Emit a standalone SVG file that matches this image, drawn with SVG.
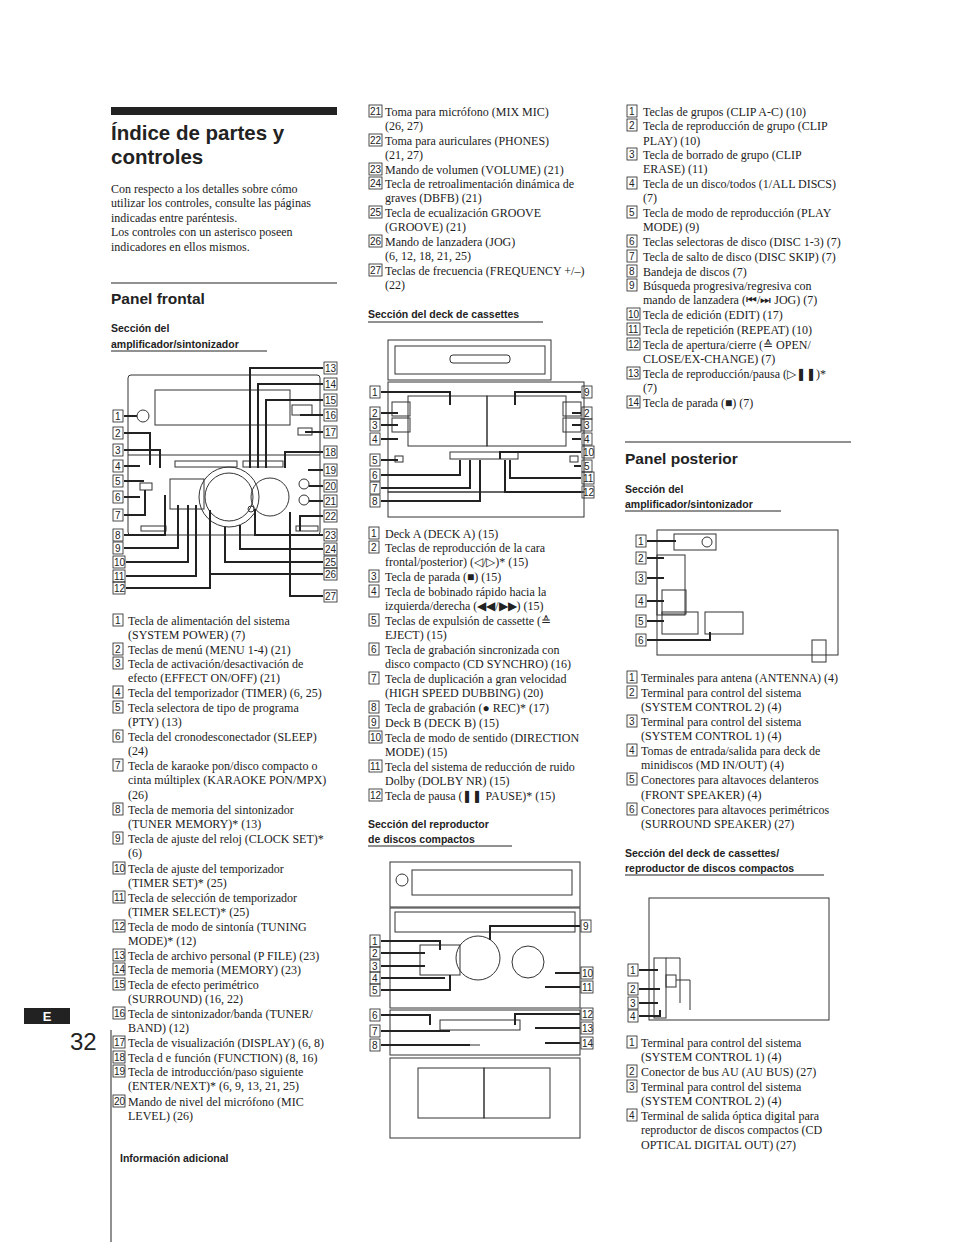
<svg xmlns="http://www.w3.org/2000/svg" width="954" height="1242" viewBox="0 0 954 1242">
<style>
text{font-family:"Liberation Serif",serif;font-size:12px;fill:#222}
.h{font-family:"Liberation Sans",Arial,sans-serif;font-weight:bold}
.title{font-size:20.5px}
.ph{font-size:15.5px}
.s{font-family:"Liberation Sans",Arial,sans-serif;font-weight:bold;font-size:10.5px}
.b{fill:none;stroke:#222;stroke-width:0.8}
.n{font-family:"Liberation Sans",Arial,sans-serif;font-size:10px}
.l{fill:none;stroke:#222;stroke-width:1}
.t{fill:none;stroke:#222;stroke-width:2}
.d{fill:none;stroke:#333;stroke-width:1}
</style>
<rect width="954" height="1242" fill="#fff"/>
<g id="header">
<rect x="111" y="107" width="226" height="8" fill="#222"/>
<text class="h title" x="111" y="140">Índice de partes y</text>
<text class="h title" x="111" y="164">controles</text>
<text x="111" y="193">Con respecto a los detalles sobre cómo</text>
<text x="111" y="207">utilizar los controles, consulte las páginas</text>
<text x="111" y="222">indicadas entre paréntesis.</text>
<text x="111" y="236">Los controles con un asterisco poseen</text>
<text x="111" y="251">indicadores en ellos mismos.</text>
<line x1="111" y1="283" x2="337" y2="283" class="l"/>
<text class="h ph" x="111" y="304">Panel frontal</text>
<text class="s" x="111" y="332">Sección del</text>
<text class="s" x="111" y="348">amplificador/sintonizador</text>
<line x1="111" y1="351" x2="267" y2="351" class="l"/>
</g>
<g id="page">
<rect x="24" y="1008" width="46" height="16" fill="#222"/>
<text class="h" x="47" y="1021" style="fill:#fff;font-size:13px" text-anchor="middle">E</text>
<text x="70" y="1050" style="font-family:'Liberation Sans',Arial,sans-serif;font-size:24px">32</text>
<line x1="111" y1="1030" x2="111" y2="1242" class="l"/>
<text class="s" x="120" y="1162">Información adicional</text>
</g>
<g id="front-amp">
<rect x="128" y="375" width="192" height="160" class="d" rx="3"/>
<rect x="155" y="390" width="135" height="35" class="d"/>
<rect x="292" y="405" width="20" height="10" class="d"/>
<rect x="298" y="428" width="14" height="7" class="d"/>
<circle cx="143" cy="416" r="6" class="d"/>
<line x1="128" y1="455" x2="320" y2="455" class="d"/>
<rect x="175" y="461" width="62" height="6" class="d"/>
<rect x="243" y="461" width="40" height="6" class="d"/>
<circle cx="229" cy="497" r="30" class="d"/>
<circle cx="229" cy="497" r="24" class="d"/>
<circle cx="270" cy="497" r="19" class="d"/>
<circle cx="304" cy="484" r="5" class="d"/>
<circle cx="304" cy="500" r="5" class="d"/>
<circle cx="251" cy="509" r="3" class="d"/>
<rect x="140" y="483" width="12" height="7" class="d"/>
<rect x="170" y="479" width="34" height="30" class="d"/>
<rect x="141" y="526" width="25" height="5" class="d"/>
<rect x="296" y="526" width="22" height="5" class="d"/>
</g>
<g id="front-amp-labels">
<rect x="113" y="410" width="10" height="12" class="b"/><text class="n" x="115" y="420">1</text>
<rect x="113" y="427" width="10" height="12" class="b"/><text class="n" x="115" y="437">2</text>
<rect x="113" y="444" width="10" height="12" class="b"/><text class="n" x="115" y="454">3</text>
<rect x="113" y="460" width="10" height="12" class="b"/><text class="n" x="115" y="470">4</text>
<rect x="113" y="475" width="10" height="12" class="b"/><text class="n" x="115" y="485">5</text>
<rect x="113" y="491" width="10" height="12" class="b"/><text class="n" x="115" y="501">6</text>
<rect x="113" y="509" width="10" height="12" class="b"/><text class="n" x="115" y="519">7</text>
<rect x="113" y="529" width="10" height="12" class="b"/><text class="n" x="115" y="539">8</text>
<rect x="113" y="542" width="10" height="12" class="b"/><text class="n" x="115" y="552">9</text>
<rect x="113" y="556" width="12" height="12" class="b"/><text class="n" x="114" y="566">10</text>
<rect x="113" y="570" width="12" height="12" class="b"/><text class="n" x="114" y="580">11</text>
<rect x="113" y="582" width="12" height="12" class="b"/><text class="n" x="114" y="592">12</text>
<rect x="324" y="362" width="13" height="12" class="b"/><text class="n" x="325" y="372">13</text>
<rect x="324" y="378" width="13" height="12" class="b"/><text class="n" x="325" y="388">14</text>
<rect x="324" y="394" width="13" height="12" class="b"/><text class="n" x="325" y="404">15</text>
<rect x="324" y="409" width="13" height="12" class="b"/><text class="n" x="325" y="419">16</text>
<rect x="324" y="426" width="13" height="12" class="b"/><text class="n" x="325" y="436">17</text>
<rect x="324" y="446" width="13" height="12" class="b"/><text class="n" x="325" y="456">18</text>
<rect x="324" y="464" width="13" height="12" class="b"/><text class="n" x="325" y="474">19</text>
<rect x="324" y="480" width="13" height="12" class="b"/><text class="n" x="325" y="490">20</text>
<rect x="324" y="495" width="13" height="12" class="b"/><text class="n" x="325" y="505">21</text>
<rect x="324" y="510" width="13" height="12" class="b"/><text class="n" x="325" y="520">22</text>
<rect x="324" y="529" width="13" height="12" class="b"/><text class="n" x="325" y="539">23</text>
<rect x="324" y="543" width="13" height="12" class="b"/><text class="n" x="325" y="553">24</text>
<rect x="324" y="556" width="13" height="12" class="b"/><text class="n" x="325" y="566">25</text>
<rect x="324" y="568" width="13" height="12" class="b"/><text class="n" x="325" y="578">26</text>
<rect x="324" y="590" width="13" height="12" class="b"/><text class="n" x="325" y="600">27</text>
</g>
<g id="front-amp-connectors">
<path class="t" d="M124 416H137M124 433H150V465M124 450H160V468M124 466H140M124 481H144M124 497H140M124 515H145V490M124 535H165V495M124 548H178V505M126 562H188V505M126 576H196V505M126 588H210V510"/>
<path class="t" d="M323 368H250V468M323 384H258V468M323 400H266V468M323 415H300M323 432H305M323 452H285V468M323 470H308M323 486H309M323 501H309M323 516H300V531M323 535H255V509M323 549H240V525M323 562H225V527M323 574H210V520M323 596H290V512"/>
</g>
<g id="front-list">
<rect x="113" y="614" width="10" height="12" class="b"/><text class="n" x="115" y="624">1</text>
<rect x="113" y="643" width="10" height="12" class="b"/><text class="n" x="115" y="653">2</text>
<rect x="113" y="657" width="10" height="12" class="b"/><text class="n" x="115" y="667">3</text>
<rect x="113" y="686" width="10" height="12" class="b"/><text class="n" x="115" y="696">4</text>
<rect x="113" y="701" width="10" height="12" class="b"/><text class="n" x="115" y="711">5</text>
<rect x="113" y="730" width="10" height="12" class="b"/><text class="n" x="115" y="740">6</text>
<rect x="113" y="759" width="10" height="12" class="b"/><text class="n" x="115" y="769">7</text>
<rect x="113" y="803" width="10" height="12" class="b"/><text class="n" x="115" y="813">8</text>
<rect x="113" y="832" width="10" height="12" class="b"/><text class="n" x="115" y="842">9</text>
<rect x="113" y="862" width="12" height="12" class="b"/><text class="n" x="114" y="872">10</text>
<rect x="113" y="891" width="12" height="12" class="b"/><text class="n" x="114" y="901">11</text>
<rect x="113" y="920" width="12" height="12" class="b"/><text class="n" x="114" y="930">12</text>
<rect x="113" y="949" width="12" height="12" class="b"/><text class="n" x="114" y="959">13</text>
<rect x="113" y="963" width="12" height="12" class="b"/><text class="n" x="114" y="973">14</text>
<rect x="113" y="978" width="12" height="12" class="b"/><text class="n" x="114" y="988">15</text>
<rect x="113" y="1007" width="12" height="12" class="b"/><text class="n" x="114" y="1017">16</text>
<rect x="113" y="1036" width="12" height="12" class="b"/><text class="n" x="114" y="1046">17</text>
<rect x="113" y="1051" width="12" height="12" class="b"/><text class="n" x="114" y="1061">18</text>
<rect x="113" y="1065" width="12" height="12" class="b"/><text class="n" x="114" y="1075">19</text>
<rect x="113" y="1095" width="12" height="12" class="b"/><text class="n" x="114" y="1105">20</text>
<text x="128" y="625">Tecla de alimentación del sistema</text>
<text x="128" y="639">(SYSTEM POWER) (7)</text>
<text x="128" y="654">Teclas de menú (MENU 1-4) (21)</text>
<text x="128" y="668">Tecla de activación/desactivación de</text>
<text x="128" y="682">efecto (EFFECT ON/OFF) (21)</text>
<text x="128" y="697">Tecla del temporizador (TIMER) (6, 25)</text>
<text x="128" y="712">Tecla selectora de tipo de programa</text>
<text x="128" y="726">(PTY) (13)</text>
<text x="128" y="741">Tecla del cronodesconectador (SLEEP)</text>
<text x="128" y="755">(24)</text>
<text x="128" y="770">Tecla de karaoke pon/disco compacto o</text>
<text x="128" y="784">cinta múltiplex (KARAOKE PON/MPX)</text>
<text x="128" y="799">(26)</text>
<text x="128" y="814">Tecla de memoria del sintonizador</text>
<text x="128" y="828">(TUNER MEMORY)* (13)</text>
<text x="128" y="843">Tecla de ajuste del reloj (CLOCK SET)*</text>
<text x="128" y="857">(6)</text>
<text x="128" y="873">Tecla de ajuste del temporizador</text>
<text x="128" y="887">(TIMER SET)* (25)</text>
<text x="128" y="902">Tecla de selección de temporizador</text>
<text x="128" y="916">(TIMER SELECT)* (25)</text>
<text x="128" y="931">Tecla de modo de sintonía (TUNING</text>
<text x="128" y="945">MODE)* (12)</text>
<text x="128" y="960">Tecla de archivo personal (P FILE) (23)</text>
<text x="128" y="974">Tecla de memoria (MEMORY) (23)</text>
<text x="128" y="989">Tecla de efecto perimétrico</text>
<text x="128" y="1003">(SURROUND) (16, 22)</text>
<text x="128" y="1018">Tecla de sintonizador/banda (TUNER/</text>
<text x="128" y="1032">BAND) (12)</text>
<text x="128" y="1047">Tecla de visualización (DISPLAY) (6, 8)</text>
<text x="128" y="1062">Tecla d e función (FUNCTION) (8, 16)</text>
<text x="128" y="1076">Tecla de introducción/paso siguiente</text>
<text x="128" y="1090">(ENTER/NEXT)* (6, 9, 13, 21, 25)</text>
<text x="128" y="1106">Mando de nivel del micrófono (MIC</text>
<text x="128" y="1120">LEVEL) (26)</text>
</g>
<g id="front-list-2">
<rect x="369" y="105" width="13" height="12" class="b"/><text class="n" x="370" y="115">21</text>
<rect x="369" y="134" width="13" height="12" class="b"/><text class="n" x="370" y="144">22</text>
<rect x="369" y="163" width="13" height="12" class="b"/><text class="n" x="370" y="173">23</text>
<rect x="369" y="177" width="13" height="12" class="b"/><text class="n" x="370" y="187">24</text>
<rect x="369" y="206" width="13" height="12" class="b"/><text class="n" x="370" y="216">25</text>
<rect x="369" y="235" width="13" height="12" class="b"/><text class="n" x="370" y="245">26</text>
<rect x="369" y="264" width="13" height="12" class="b"/><text class="n" x="370" y="274">27</text>
<text x="385" y="116">Toma para micrófono (MIX MIC)</text>
<text x="385" y="130">(26, 27)</text>
<text x="385" y="145">Toma para auriculares (PHONES)</text>
<text x="385" y="159">(21, 27)</text>
<text x="385" y="174">Mando de volumen (VOLUME) (21)</text>
<text x="385" y="188">Tecla de retroalimentación dinámica de</text>
<text x="385" y="202">graves (DBFB) (21)</text>
<text x="385" y="217">Tecla de ecualización GROOVE</text>
<text x="385" y="231">(GROOVE) (21)</text>
<text x="385" y="246">Mando de lanzadera (JOG)</text>
<text x="385" y="260">(6, 12, 18, 21, 25)</text>
<text x="385" y="275">Teclas de frecuencia (FREQUENCY +/–)</text>
<text x="385" y="289">(22)</text>
<text class="s" x="368" y="318">Sección del deck de cassettes</text>
<line x1="368" y1="322" x2="543" y2="322" class="l"/>
</g>
<g id="cassette">
<rect x="388" y="340" width="163" height="40" class="d"/>
<rect x="395" y="346" width="150" height="28" class="d"/>
<rect x="450" y="355" width="60" height="8" class="d" rx="3"/>
<rect x="388" y="382" width="196" height="110" class="d"/>
<rect x="408" y="396" width="79" height="50" class="d"/>
<rect x="487" y="396" width="79" height="50" class="d"/>
<rect x="392" y="402" width="18" height="14" class="d"/>
<rect x="392" y="418" width="18" height="14" class="d"/>
<rect x="563" y="402" width="18" height="14" class="d"/>
<rect x="563" y="418" width="18" height="14" class="d"/>
<rect x="450" y="452" width="68" height="7" class="d"/>
<rect x="395" y="456" width="8" height="6" class="d"/>
<rect x="570" y="456" width="8" height="6" class="d"/>
<rect x="388" y="492" width="196" height="25" class="d"/>
</g>
<g id="cassette-labels">
<rect x="370" y="386" width="10" height="12" class="b"/><text class="n" x="372" y="396">1</text>
<rect x="370" y="407" width="10" height="12" class="b"/><text class="n" x="372" y="417">2</text>
<rect x="370" y="419" width="10" height="12" class="b"/><text class="n" x="372" y="429">3</text>
<rect x="370" y="433" width="10" height="12" class="b"/><text class="n" x="372" y="443">4</text>
<rect x="370" y="454" width="10" height="12" class="b"/><text class="n" x="372" y="464">5</text>
<rect x="370" y="469" width="10" height="12" class="b"/><text class="n" x="372" y="479">6</text>
<rect x="370" y="482" width="10" height="12" class="b"/><text class="n" x="372" y="492">7</text>
<rect x="370" y="495" width="10" height="12" class="b"/><text class="n" x="372" y="505">8</text>
<rect x="582" y="386" width="10" height="12" class="b"/><text class="n" x="584" y="396">9</text>
<rect x="582" y="407" width="10" height="12" class="b"/><text class="n" x="584" y="417">2</text>
<rect x="582" y="419" width="10" height="12" class="b"/><text class="n" x="584" y="429">3</text>
<rect x="582" y="433" width="10" height="12" class="b"/><text class="n" x="584" y="443">4</text>
<rect x="582" y="446" width="12" height="12" class="b"/><text class="n" x="583" y="456">10</text>
<rect x="582" y="460" width="10" height="12" class="b"/><text class="n" x="584" y="470">5</text>
<rect x="582" y="472" width="12" height="12" class="b"/><text class="n" x="583" y="482">11</text>
<rect x="582" y="486" width="12" height="12" class="b"/><text class="n" x="583" y="496">12</text>
</g>
<g id="cassette-connectors">
<path class="t" d="M381 392H450V405M381 413H398M381 425H398M381 439H398M381 460H398M381 475H460V460M381 488H470V460M381 501H480V460M581 392H515V405M581 413H572M581 425H572M581 439H572M581 452H500V459M581 466H574M581 478H510V460M581 492H505V460"/>
</g>
<g id="cassette-list">
<rect x="369" y="527" width="10" height="12" class="b"/><text class="n" x="371" y="537">1</text>
<rect x="369" y="541" width="10" height="12" class="b"/><text class="n" x="371" y="551">2</text>
<rect x="369" y="570" width="10" height="12" class="b"/><text class="n" x="371" y="580">3</text>
<rect x="369" y="585" width="10" height="12" class="b"/><text class="n" x="371" y="595">4</text>
<rect x="369" y="614" width="10" height="12" class="b"/><text class="n" x="371" y="624">5</text>
<rect x="369" y="643" width="10" height="12" class="b"/><text class="n" x="371" y="653">6</text>
<rect x="369" y="672" width="10" height="12" class="b"/><text class="n" x="371" y="682">7</text>
<rect x="369" y="701" width="10" height="12" class="b"/><text class="n" x="371" y="711">8</text>
<rect x="369" y="716" width="10" height="12" class="b"/><text class="n" x="371" y="726">9</text>
<rect x="369" y="731" width="13" height="12" class="b"/><text class="n" x="370" y="741">10</text>
<rect x="369" y="760" width="13" height="12" class="b"/><text class="n" x="370" y="770">11</text>
<rect x="369" y="789" width="13" height="12" class="b"/><text class="n" x="370" y="799">12</text>
<text x="385" y="538">Deck A (DECK A) (15)</text>
<text x="385" y="552">Teclas de reproducción de la cara</text>
<text x="385" y="566">frontal/posterior) (◁/▷)* (15)</text>
<text x="385" y="581">Tecla de parada (■) (15)</text>
<text x="385" y="596">Tecla de bobinado rápido hacia la</text>
<text x="385" y="610">izquierda/derecha (◀◀/▶▶) (15)</text>
<text x="385" y="625">Teclas de expulsión de cassette (≙</text>
<text x="385" y="639">EJECT) (15)</text>
<text x="385" y="654">Tecla de grabación sincronizada con</text>
<text x="385" y="668">disco compacto (CD SYNCHRO) (16)</text>
<text x="385" y="683">Tecla de duplicación a gran velocidad</text>
<text x="385" y="697">(HIGH SPEED DUBBING) (20)</text>
<text x="385" y="712">Tecla de grabación (● REC)* (17)</text>
<text x="385" y="727">Deck B (DECK B) (15)</text>
<text x="385" y="742">Tecla de modo de sentido (DIRECTION</text>
<text x="385" y="756">MODE) (15)</text>
<text x="385" y="771">Tecla del sistema de reducción de ruido</text>
<text x="385" y="785">Dolby (DOLBY NR) (15)</text>
<text x="385" y="800">Tecla de pausa (❚❚ PAUSE)* (15)</text>
<text class="s" x="368" y="828">Sección del reproductor</text>
<text class="s" x="368" y="843">de discos compactos</text>
<line x1="368" y1="846" x2="512" y2="846" class="l"/>
</g>
<g id="cd">
<rect x="390" y="862" width="190" height="45" class="d"/>
<circle cx="402" cy="880" r="6" class="d"/>
<rect x="412" y="870" width="160" height="25" class="d"/>
<rect x="390" y="908" width="190" height="100" class="d"/>
<rect x="395" y="912" width="180" height="20" class="d"/>
<circle cx="478" cy="958" r="22" class="d"/>
<circle cx="528" cy="962" r="16" class="d"/>
<rect x="420" y="945" width="40" height="30" class="d"/>
<rect x="390" y="1010" width="190" height="45" class="d"/>
<rect x="440" y="1020" width="80" height="10" class="d"/>
<line x1="400" y1="1045" x2="480" y2="1045" class="d"/>
<rect x="390" y="1058" width="190" height="80" class="d"/>
<rect x="418" y="1068" width="66" height="50" class="d"/>
<rect x="484" y="1068" width="66" height="50" class="d"/>
</g>
<g id="cd-labels">
<rect x="370" y="935" width="10" height="12" class="b"/><text class="n" x="372" y="945">1</text>
<rect x="370" y="947" width="10" height="12" class="b"/><text class="n" x="372" y="957">2</text>
<rect x="370" y="960" width="10" height="12" class="b"/><text class="n" x="372" y="970">3</text>
<rect x="370" y="972" width="10" height="12" class="b"/><text class="n" x="372" y="982">4</text>
<rect x="370" y="984" width="10" height="12" class="b"/><text class="n" x="372" y="994">5</text>
<rect x="370" y="1009" width="10" height="12" class="b"/><text class="n" x="372" y="1019">6</text>
<rect x="370" y="1025" width="10" height="12" class="b"/><text class="n" x="372" y="1035">7</text>
<rect x="370" y="1039" width="10" height="12" class="b"/><text class="n" x="372" y="1049">8</text>
<rect x="581" y="920" width="10" height="12" class="b"/><text class="n" x="583" y="930">9</text>
<rect x="581" y="967" width="12" height="12" class="b"/><text class="n" x="582" y="977">10</text>
<rect x="581" y="981" width="12" height="12" class="b"/><text class="n" x="582" y="991">11</text>
<rect x="581" y="1008" width="12" height="12" class="b"/><text class="n" x="582" y="1018">12</text>
<rect x="581" y="1022" width="12" height="12" class="b"/><text class="n" x="582" y="1032">13</text>
<rect x="581" y="1037" width="12" height="12" class="b"/><text class="n" x="582" y="1047">14</text>
</g>
<g id="cd-connectors">
<path class="t" d="M381 941H440V950M381 953H425M381 966H425M381 978H445M381 990H450V975M381 1015H430V1025M381 1031H450M381 1045H470M580 926H490V940M580 973H555M580 987H545M580 1014H515V1025M580 1028H535M580 1043H545"/>
</g>
<g id="cd-list">
<rect x="627" y="105" width="10" height="12" class="b"/><text class="n" x="629" y="115">1</text>
<rect x="627" y="119" width="10" height="12" class="b"/><text class="n" x="629" y="129">2</text>
<rect x="627" y="148" width="10" height="12" class="b"/><text class="n" x="629" y="158">3</text>
<rect x="627" y="177" width="10" height="12" class="b"/><text class="n" x="629" y="187">4</text>
<rect x="627" y="206" width="10" height="12" class="b"/><text class="n" x="629" y="216">5</text>
<rect x="627" y="235" width="10" height="12" class="b"/><text class="n" x="629" y="245">6</text>
<rect x="627" y="250" width="10" height="12" class="b"/><text class="n" x="629" y="260">7</text>
<rect x="627" y="265" width="10" height="12" class="b"/><text class="n" x="629" y="275">8</text>
<rect x="627" y="279" width="10" height="12" class="b"/><text class="n" x="629" y="289">9</text>
<rect x="627" y="308" width="13" height="12" class="b"/><text class="n" x="628" y="318">10</text>
<rect x="627" y="323" width="13" height="12" class="b"/><text class="n" x="628" y="333">11</text>
<rect x="627" y="338" width="13" height="12" class="b"/><text class="n" x="628" y="348">12</text>
<rect x="627" y="367" width="13" height="12" class="b"/><text class="n" x="628" y="377">13</text>
<rect x="627" y="396" width="13" height="12" class="b"/><text class="n" x="628" y="406">14</text>
<text x="643" y="116">Teclas de grupos (CLIP A-C) (10)</text>
<text x="643" y="130">Tecla de reproducción de grupo (CLIP</text>
<text x="643" y="145">PLAY) (10)</text>
<text x="643" y="159">Tecla de borrado de grupo (CLIP</text>
<text x="643" y="173">ERASE) (11)</text>
<text x="643" y="188">Tecla de un disco/todos (1/ALL DISCS)</text>
<text x="643" y="202">(7)</text>
<text x="643" y="217">Tecla de modo de reproducción (PLAY</text>
<text x="643" y="231">MODE) (9)</text>
<text x="643" y="246">Teclas selectoras de disco (DISC 1-3) (7)</text>
<text x="643" y="261">Tecla de salto de disco (DISC SKIP) (7)</text>
<text x="643" y="276">Bandeja de discos (7)</text>
<text x="643" y="290">Búsqueda progresiva/regresiva con</text>
<text x="643" y="304">mando de lanzadera (⏮/⏭ JOG) (7)</text>
<text x="643" y="319">Tecla de edición (EDIT) (17)</text>
<text x="643" y="334">Tecla de repetición (REPEAT) (10)</text>
<text x="643" y="349">Tecla de apertura/cierre (≙ OPEN/</text>
<text x="643" y="363">CLOSE/EX-CHANGE) (7)</text>
<text x="643" y="378">Tecla de reproducción/pausa (▷❚❚)*</text>
<text x="643" y="392">(7)</text>
<text x="643" y="407">Tecla de parada (■) (7)</text>
</g>
<g id="rear-header">
<line x1="625" y1="442" x2="851" y2="442" class="l"/>
<text class="h ph" x="625" y="464">Panel posterior</text>
<text class="s" x="625" y="493">Sección del</text>
<text class="s" x="625" y="508">amplificador/sintonizador</text>
<line x1="625" y1="511" x2="781" y2="511" class="l"/>
</g>
<g id="rear-amp">
<rect x="657" y="530" width="181" height="125" class="d"/>
<rect x="674" y="534" width="42" height="16" class="d"/>
<circle cx="707" cy="542" r="5" class="d"/>
<rect x="657" y="555" width="28" height="60" class="d"/>
<rect x="662" y="590" width="24" height="24" class="d"/>
<rect x="662" y="612" width="36" height="22" class="d"/>
<rect x="705" y="612" width="38" height="22" class="d"/>
<rect x="812" y="640" width="14" height="22" class="d"/>
</g>
<g id="rear-amp-labels">
<rect x="636" y="535" width="10" height="12" class="b"/><text class="n" x="638" y="545">1</text>
<rect x="636" y="552" width="10" height="12" class="b"/><text class="n" x="638" y="562">2</text>
<rect x="636" y="572" width="10" height="12" class="b"/><text class="n" x="638" y="582">3</text>
<rect x="636" y="595" width="10" height="12" class="b"/><text class="n" x="638" y="605">4</text>
<rect x="636" y="615" width="10" height="12" class="b"/><text class="n" x="638" y="625">5</text>
<rect x="636" y="634" width="10" height="12" class="b"/><text class="n" x="638" y="644">6</text>
<path class="t" d="M647 541H676M647 558H664M647 578H664M647 601H664M647 621H664M647 640H710V632"/>
</g>
<g id="rear-list">
<rect x="627" y="671" width="10" height="12" class="b"/><text class="n" x="629" y="681">1</text>
<rect x="627" y="686" width="10" height="12" class="b"/><text class="n" x="629" y="696">2</text>
<rect x="627" y="715" width="10" height="12" class="b"/><text class="n" x="629" y="725">3</text>
<rect x="627" y="744" width="10" height="12" class="b"/><text class="n" x="629" y="754">4</text>
<rect x="627" y="773" width="10" height="12" class="b"/><text class="n" x="629" y="783">5</text>
<rect x="627" y="803" width="10" height="12" class="b"/><text class="n" x="629" y="813">6</text>
<text x="641" y="682">Terminales para antena (ANTENNA) (4)</text>
<text x="641" y="697">Terminal para control del sistema</text>
<text x="641" y="711">(SYSTEM CONTROL 2) (4)</text>
<text x="641" y="726">Terminal para control del sistema</text>
<text x="641" y="740">(SYSTEM CONTROL 1) (4)</text>
<text x="641" y="755">Tomas de entrada/salida para deck de</text>
<text x="641" y="769">minidiscos (MD IN/OUT) (4)</text>
<text x="641" y="784">Conectores para altavoces delanteros</text>
<text x="641" y="799">(FRONT SPEAKER) (4)</text>
<text x="641" y="814">Conectores para altavoces perimétricos</text>
<text x="641" y="828">(SURROUND SPEAKER) (27)</text>
<text class="s" x="625" y="857">Sección del deck de cassettes/</text>
<text class="s" x="625" y="872">reproductor de discos compactos</text>
<line x1="625" y1="875" x2="824" y2="875" class="l"/>
</g>
<g id="rear-cd">
<rect x="649" y="898" width="180" height="122" class="d"/>
<rect x="654" y="958" width="12" height="60" class="d"/>
<rect x="666" y="975" width="10" height="12" class="d"/>
<path class="d" d="M666 958H680V1003M676 980H690V1010"/>
</g>
<g id="rear-cd-labels">
<rect x="628" y="964" width="10" height="12" class="b"/><text class="n" x="630" y="974">1</text>
<rect x="628" y="983" width="10" height="12" class="b"/><text class="n" x="630" y="993">2</text>
<rect x="628" y="997" width="10" height="12" class="b"/><text class="n" x="630" y="1007">3</text>
<rect x="628" y="1010" width="10" height="12" class="b"/><text class="n" x="630" y="1020">4</text>
<path class="t" d="M639 970H658M639 989H660M639 1003H658M639 1016H660V1010"/>
</g>
<g id="rear-cd-list">
<rect x="627" y="1036" width="10" height="12" class="b"/><text class="n" x="629" y="1046">1</text>
<rect x="627" y="1065" width="10" height="12" class="b"/><text class="n" x="629" y="1075">2</text>
<rect x="627" y="1080" width="10" height="12" class="b"/><text class="n" x="629" y="1090">3</text>
<rect x="627" y="1109" width="10" height="12" class="b"/><text class="n" x="629" y="1119">4</text>
<text x="641" y="1047">Terminal para control del sistema</text>
<text x="641" y="1061">(SYSTEM CONTROL 1) (4)</text>
<text x="641" y="1076">Conector de bus AU (AU BUS) (27)</text>
<text x="641" y="1091">Terminal para control del sistema</text>
<text x="641" y="1105">(SYSTEM CONTROL 2) (4)</text>
<text x="641" y="1120">Terminal de salida óptica digital para</text>
<text x="641" y="1134">reproductor de discos compactos (CD</text>
<text x="641" y="1149">OPTICAL DIGITAL OUT) (27)</text>
</g>
</svg>
